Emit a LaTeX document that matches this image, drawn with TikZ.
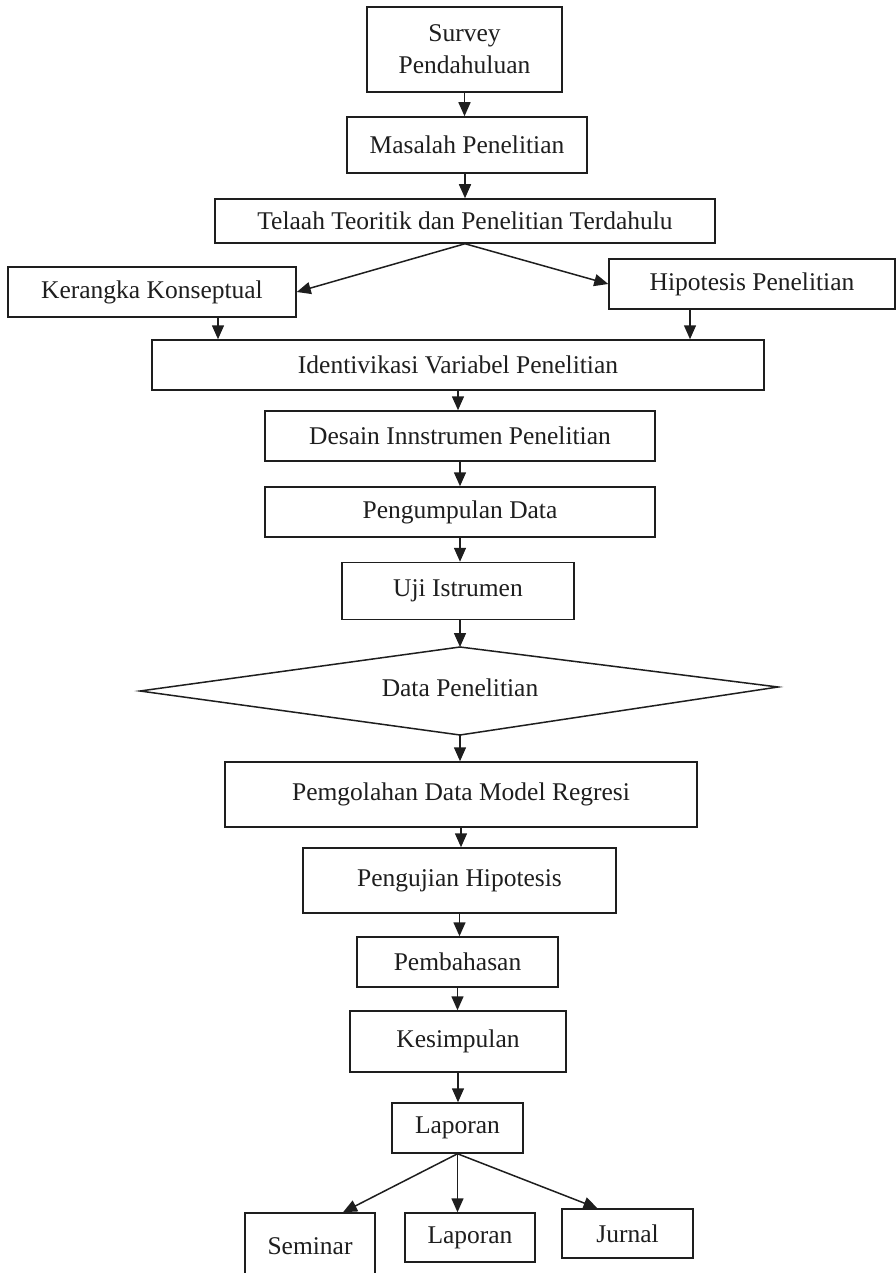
\documentclass[tikz,border=0pt]{standalone}
\usepackage{fontspec}
\setmainfont{Liberation Serif}
\usetikzlibrary{arrows.meta}
\definecolor{ink}{RGB}{30,30,30}
\begin{document}
\begin{tikzpicture}[x=1pt,y=-1pt,
  box/.style={draw=ink, line width=1.5pt, inner sep=0pt, text=ink,
    font=\fontsize{25.5}{32}\selectfont, align=center},
  lbl/.style={inner sep=0pt, text=ink, font=\fontsize{25.5}{32}\selectfont},
  arr/.style={draw=ink, line width=1.5pt, -{Triangle[length=14pt,width=12pt]}}]
\useasboundingbox (0,0) rectangle (895,1273);
\fill[white] (0,0) rectangle (895,1273);

\node[box, minimum width=195pt, minimum height=85pt] (survey) at (464.5,49.5) {Survey\\Pendahuluan};
\node[box, minimum width=240pt, minimum height=56pt] (masalah) at (467,145) {Masalah Penelitian};
\node[box, minimum width=500pt, minimum height=44pt] (telaah) at (465,221) {Telaah Teoritik dan Penelitian Terdahulu};
\node[box, minimum width=288pt, minimum height=50pt] (kerangka) at (152,292) {Kerangka Konseptual};
\node[box, minimum width=286pt, minimum height=50pt] (hipotesis) at (752,284) {Hipotesis Penelitian};
\node[box, minimum width=612pt, minimum height=50pt] (ident) at (458,365) {Identivikasi Variabel Penelitian};
\node[box, minimum width=390pt, minimum height=50pt] (desain) at (460,436) {Desain Innstrumen Penelitian};
\node[box, minimum width=390pt, minimum height=50pt] (kumpul) at (460,512) {\raisebox{-4pt}{Pengumpulan Data}};
\node[box, minimum width=232pt, minimum height=57pt] (uji) at (458,591) {Uji Istrumen};

% decision diamond
\coordinate (dtop) at (460,647);
\coordinate (dbot) at (460,735);
\coordinate (dleft) at (140,691);
\coordinate (dright) at (778,687);
\draw[ink, line width=1.5pt, line join=miter] (dleft) -- (dtop) -- (dright) -- (dbot) -- cycle;
\node[lbl] (data) at (460,688) {Data Penelitian};

\node[box, minimum width=472pt, minimum height=65pt] (olah) at (461,794.5) {\raisebox{6pt}{Pemgolahan Data Model Regresi}};
\node[box, minimum width=313pt, minimum height=65pt] (uji2) at (459.5,880.5) {\raisebox{4pt}{Pengujian Hipotesis}};
\node[box, minimum width=201pt, minimum height=50pt] (bahas) at (457.5,962) {Pembahasan};
\node[box, minimum width=216pt, minimum height=61pt] (simpul) at (458,1041.5) {\raisebox{4pt}{Kesimpulan}};
\node[box, minimum width=131pt, minimum height=50pt] (lapor) at (457.5,1128) {Laporan};
\node[box, minimum width=130pt, minimum height=74pt] (seminar) at (310,1250) {\raisebox{8pt}{Seminar}};
\node[box, minimum width=130pt, minimum height=49pt] (lapor2) at (470,1237.5) {Laporan};
\node[box, minimum width=131pt, minimum height=49pt] (jurnal) at (627.5,1233.5) {Jurnal};

\coordinate (k1) at (218,0);
\coordinate (h1) at (690,0);

\draw[arr] (survey.south) -- (survey.south |- masalah.north);
\draw[arr] (masalah.south -| telaah.north) -- (telaah.north);
\draw[arr] (telaah.south) -- (kerangka.east);
\draw[arr] (telaah.south) -- (hipotesis.west);
\draw[arr] (kerangka.south -| k1) -- (ident.north -| k1);
\draw[arr] (hipotesis.south -| h1) -- (ident.north -| h1);
\draw[arr] (ident.south) -- (ident.south |- desain.north);
\draw[arr] (desain.south) -- (kumpul.north);
\draw[arr] (kumpul.south) -- (kumpul.south |- uji.north);
\draw[arr] (uji.south -| dtop) -- (dtop);
\draw[arr] (dbot) -- (dbot |- olah.north);
\draw[arr] (olah.south) -- (olah.south |- uji2.north);
\draw[arr] (uji2.south) -- (uji2.south |- bahas.north);
\draw[arr] (bahas.south) -- (bahas.south |- simpul.north);
\draw[arr] (simpul.south) -- (simpul.south |- lapor.north);
\draw[arr] (lapor.south) -- ([xshift=33pt]seminar.north);
\draw[arr] (lapor.south) -- (lapor.south |- lapor2.north);
\draw[arr] (lapor.south) -- ([xshift=-30pt]jurnal.north);
\end{tikzpicture}
\end{document}
